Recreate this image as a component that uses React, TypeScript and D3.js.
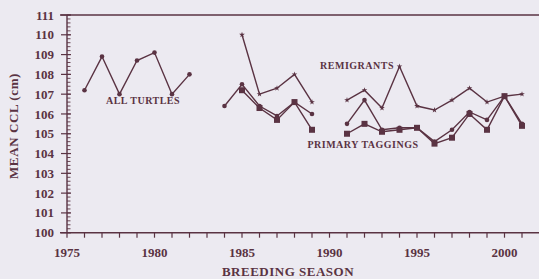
import React, { useRef, useEffect } from 'react';
import * as d3 from 'd3';

const years = d3.range(1976, 2002);
// null = no season plotted (gap in line)
const allTurtles: (number | null)[] = [
  107.2, 108.9, 107.0, 108.7, 109.1, 107.0, 108.0, null,
  106.4, 107.5, 106.4, 105.9, 106.6, 106.0, null,
  105.5, 106.7, 105.2, 105.3, 105.3, 104.6, 105.2, 106.1, 105.7, 106.9, 105.5,
];
const remigrants: (number | null)[] = [
  null, null, null, null, null, null, null, null,
  null, 110.0, 107.0, 107.3, 108.0, 106.6, null,
  106.7, 107.2, 106.3, 108.4, 106.4, 106.2, 106.7, 107.3, 106.6, 106.9, 107.0,
];
const primaryTaggings: (number | null)[] = [
  null, null, null, null, null, null, null, null,
  null, 107.2, 106.3, 105.7, 106.6, 105.2, null,
  105.0, 105.5, 105.1, 105.2, 105.3, 104.5, 104.8, 106.0, 105.2, 106.9, 105.4,
];
const yTicks = d3.range(100, 112);
const xLabels = [1975, 1980, 1985, 1990, 1995, 2000];

const INK = '#5a3343';
const BG = '#eceaf1';

const App: React.FC = () => {
  const svgRef = useRef<SVGSVGElement>(null);

  useEffect(() => {
    if (!svgRef.current) return;
    const width = 539;
    const height = 279;

    const x = d3.scaleLinear().domain([1975, 2001]).range([67, 522]);
    const y = d3.scaleLinear().domain([100, 111]).range([232.7, 15]);

    const svg = d3.select(svgRef.current)
      .attr('width', width)
      .attr('height', height)
      .style('font-family', '"Liberation Serif", serif')
      .style('font-weight', 'bold');
    svg.selectAll('*').remove();

    svg.append('rect').attr('width', width).attr('height', height).attr('fill', BG);

    // frame: top line and y axis line, x axis line
    svg.append('line').attr('x1', 60).attr('x2', width).attr('y1', y(111)).attr('y2', y(111))
      .attr('stroke', INK).attr('stroke-width', 1.6);
    svg.append('line').attr('x1', x(1975)).attr('x2', x(1975)).attr('y1', y(111)).attr('y2', y(100))
      .attr('stroke', INK).attr('stroke-width', 1.4);
    svg.append('line').attr('x1', 60).attr('x2', width).attr('y1', y(100)).attr('y2', y(100))
      .attr('stroke', INK).attr('stroke-width', 1.6);

    // y ticks
    const gy = svg.append('g');
    gy.selectAll('line.minor')
      .data(d3.range(100, 111.001, 0.2))
      .join('line')
      .attr('x1', x(1975)).attr('x2', x(1975) + 3.5)
      .attr('y1', d => y(d)).attr('y2', d => y(d))
      .attr('stroke', INK).attr('stroke-width', 0.9);
    gy.selectAll('line.major')
      .data(yTicks)
      .join('line')
      .attr('x1', x(1975) - 6).attr('x2', x(1975) + 4)
      .attr('y1', d => y(d)).attr('y2', d => y(d))
      .attr('stroke', INK).attr('stroke-width', 1.2);
    gy.selectAll('text')
      .data(yTicks)
      .join('text')
      .attr('x', 54).attr('y', d => y(d)).attr('dy', '0.35em')
      .attr('text-anchor', 'end').attr('font-size', 13).attr('fill', INK)
      .text(d => d);

    // x ticks
    const gx = svg.append('g');
    gx.selectAll('line')
      .data(d3.range(1975, 2002))
      .join('line')
      .attr('x1', d => x(d)).attr('x2', d => x(d))
      .attr('y1', y(100)).attr('y2', y(100) + 5)
      .attr('stroke', INK).attr('stroke-width', 1.2);
    gx.selectAll('text')
      .data(xLabels)
      .join('text')
      .attr('x', d => x(d)).attr('y', 257)
      .attr('text-anchor', 'middle').attr('font-size', 13).attr('fill', INK)
      .text(d => d);

    svg.append('text').attr('x', 288).attr('y', 276)
      .attr('text-anchor', 'middle').attr('font-size', 13).attr('letter-spacing', 0.5)
      .attr('fill', INK)
      .text('BREEDING SEASON');
    svg.append('text')
      .attr('transform', `translate(18,126) rotate(-90)`)
      .attr('text-anchor', 'middle').attr('font-size', 13).attr('letter-spacing', 0.6)
      .attr('fill', INK)
      .text('MEAN CCL (cm)');

    const line = d3.line<number | null>()
      .defined(d => d != null)
      .x((_, i) => x(years[i]))
      .y(d => y(d as number));

    const series = [
      { values: remigrants, marker: 'star' },
      { values: allTurtles, marker: 'circle' },
      { values: primaryTaggings, marker: 'square' },
    ];

    series.forEach(s => {
      svg.append('path')
        .attr('d', line(s.values) || '')
        .attr('fill', 'none').attr('stroke', INK).attr('stroke-width', 1.4);
      const pts = s.values.map((v, i) => ({ v, yr: years[i] })).filter(p => p.v != null);
      const g = svg.append('g').attr('fill', INK);
      if (s.marker === 'circle') {
        g.selectAll('circle').data(pts).join('circle')
          .attr('cx', d => x(d.yr)).attr('cy', d => y(d.v as number)).attr('r', 2.3);
      } else if (s.marker === 'square') {
        g.selectAll('rect').data(pts).join('rect')
          .attr('x', d => x(d.yr) - 3).attr('y', d => y(d.v as number) - 3)
          .attr('width', 6).attr('height', 6);
      } else {
        g.selectAll('path').data(pts).join('path')
          .attr('transform', d => `translate(${x(d.yr)},${y(d.v as number)})`)
          .attr('d', d3.symbol(d3.symbolStar).size(10)() || '');
      }
    });

    const labels = [
      { text: 'ALL TURTLES', x: 143, y: 104 },
      { text: 'REMIGRANTS', x: 357, y: 69 },
      { text: 'PRIMARY TAGGINGS', x: 363, y: 148 },
    ];
    svg.append('g').selectAll('text').data(labels).join('text')
      .attr('x', d => d.x).attr('y', d => d.y)
      .attr('text-anchor', 'middle').attr('font-size', 10).attr('letter-spacing', 0.5)
      .attr('fill', INK)
      .text(d => d.text);
  }, []);

  return <svg ref={svgRef} style={{ position: 'absolute', left: 0, top: 0, display: 'block' }} />;
};

export default App;
